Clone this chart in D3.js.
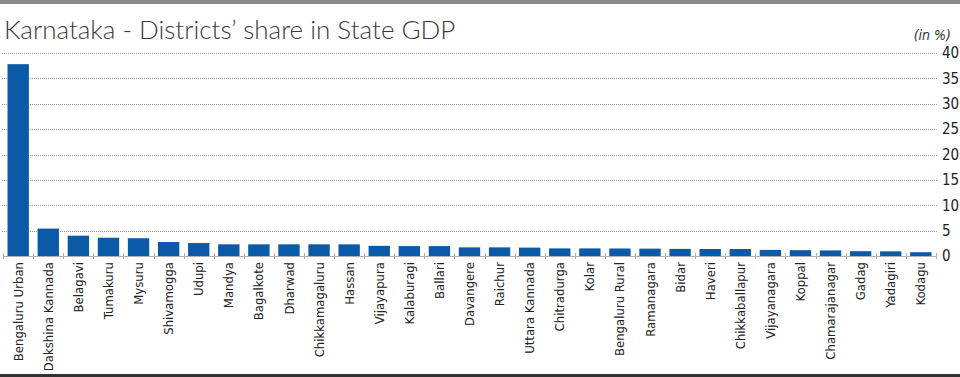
<!DOCTYPE html>
<html>
<head>
<meta charset="utf-8">
<script src="https://cdn.jsdelivr.net/npm/d3@7"></script>
<style>
  body { margin: 0; background: #fff; }
  .grid line { stroke: #9a9a9a; stroke-dasharray: 1,1; }
</style>
</head>
<body>
<div id="chart"></div>
<script>
// District names, in chart order
const districts = [
    "Bengaluru Urban", "Dakshina Kannada", "Belagavi", "Tumakuru", "Mysuru",
    "Shivamogga", "Udupi", "Mandya", "Bagalkote", "Dharwad", "Chikkamagaluru",
    "Hassan", "Vijayapura", "Kalaburagi", "Ballari", "Davangere", "Raichur",
    "Uttara Kannada", "Chitradurga", "Kolar", "Bengaluru Rural", "Ramanagara",
    "Bidar", "Haveri", "Chikkaballapur", "Vijayanagara", "Koppal",
    "Chamarajanagar", "Gadag", "Yadagiri", "Kodagu"
];

// Share in state GDP (%)
const shares = [
    37.8, 5.4, 4.0, 3.6, 3.5,
    2.75, 2.55, 2.3, 2.3, 2.3, 2.3,
    2.3, 2.0, 1.95, 1.95, 1.7, 1.7,
    1.65, 1.5, 1.5, 1.48, 1.45,
    1.4, 1.38, 1.38, 1.2, 1.15,
    1.1, 0.95, 0.92, 0.75
];

const yTicks = [0, 5, 10, 15, 20, 25, 30, 35, 40];

const data = districts.map((d, i) => ({ district: d, share: shares[i] }));

const width = 960;
const height = 377;
const m = { top: 53, right: 24, bottom: 121, left: 3 };

const svg = d3.select("#chart").append("svg")
    .attr("width", width)
    .attr("height", height);

// Grey band at the very top
svg.append("rect")
    .attr("x", 0).attr("y", 0)
    .attr("width", width).attr("height", 4)
    .attr("fill", "#8c8c8c");

// Dark rule at the bottom
svg.append("rect")
    .attr("x", 0).attr("y", 374)
    .attr("width", width).attr("height", 3)
    .attr("fill", "#333");

// Title
svg.append("text")
    .attr("x", 4)
    .attr("y", 39)
    .attr("font-family", "'Lato Light', 'Lato', sans-serif")
    .attr("font-weight", 300)
    .attr("font-size", "26px")
    .attr("fill", "#3a3a3a")
    .text("Karnataka - Districts’ share in State GDP");

// Unit note
svg.append("text")
    .attr("x", 951)
    .attr("y", 40)
    .attr("text-anchor", "end")
    .attr("font-family", "'DejaVu Sans Condensed', sans-serif")
    .attr("font-style", "italic")
    .attr("font-size", "14px")
    .attr("fill", "#333")
    .text("(in %)");

const xScale = d3.scaleBand()
    .domain(districts)
    .range([m.left, width - m.right])
    .paddingInner(0.29)
    .paddingOuter(0.15);

const yScale = d3.scaleLinear()
    .domain([0, 40])
    .range([height - m.bottom, m.top]);

// Dotted gridlines + right-side labels
const grid = svg.append("g").attr("class", "grid");
grid.selectAll("line")
    .data(yTicks.filter(t => t > 0))
    .join("line")
    .attr("x1", 2)
    .attr("x2", 937)
    .attr("y1", d => Math.round(yScale(d)) + 0.5)
    .attr("y2", d => Math.round(yScale(d)) + 0.5);

svg.append("g")
    .selectAll("text")
    .data(yTicks)
    .join("text")
    .attr("x", 942)
    .attr("y", d => yScale(d))
    .attr("dy", "0.35em")
    .attr("font-family", "'DejaVu Sans Condensed', sans-serif")
    .attr("font-size", "15px")
    .attr("fill", "#222")
    .text(d => d);

// Bars
svg.append("g")
    .selectAll("rect")
    .data(data)
    .join("rect")
    .attr("x", d => xScale(d.district))
    .attr("y", d => yScale(d.share))
    .attr("width", xScale.bandwidth())
    .attr("height", d => yScale(0) - yScale(d.share))
    .attr("fill", "#0b5aa8");

// Baseline + tick marks between bars
const step = xScale.step();
const gap = (step - xScale.bandwidth()) / 2;
const bounds = districts.map(d => xScale(d) - gap);
bounds.push(xScale(districts[districts.length - 1]) + xScale.bandwidth() + gap);

const axis = svg.append("g").attr("class", "x-axis");
axis.append("line")
    .attr("x1", bounds[0]).attr("x2", bounds[bounds.length - 1])
    .attr("y1", yScale(0) + 0.5).attr("y2", yScale(0) + 0.5)
    .attr("stroke", "#b0b0b0");
axis.selectAll(".tk")
    .data(bounds)
    .join("line")
    .attr("class", "tk")
    .attr("x1", d => Math.round(d) + 0.5).attr("x2", d => Math.round(d) + 0.5)
    .attr("y1", yScale(0) - 3).attr("y2", yScale(0) + 3)
    .attr("stroke", "#b0b0b0");

// Rotated district labels
svg.append("g")
    .selectAll("text")
    .data(data)
    .join("text")
    .attr("transform", d => {
        const x = xScale(d.district) + xScale.bandwidth() / 2;
        return `translate(${x},${yScale(0) + 6}) rotate(-90)`;
    })
    .attr("text-anchor", "end")
    .attr("dy", "0.35em")
    .attr("font-family", "'DejaVu Sans Condensed', sans-serif")
    .attr("font-size", "13px")
    .attr("fill", "#222")
    .text(d => d.district);
</script>
</body>
</html>
